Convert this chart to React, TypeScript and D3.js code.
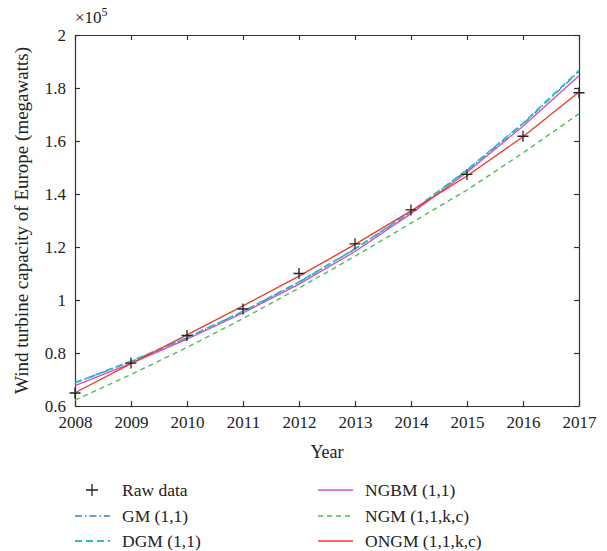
import React, { useRef, useEffect } from "react";
import * as d3 from "d3";

const years = [2008, 2009, 2010, 2011, 2012, 2013, 2014, 2015, 2016, 2017];
const rawData = [0.649, 0.762, 0.866, 0.966, 1.1, 1.212, 1.34, 1.474, 1.618, 1.782];
const gm = [0.687, 0.768, 0.857, 0.956, 1.067, 1.192, 1.332, 1.489, 1.664, 1.862];
const dgm = [0.688, 0.769, 0.858, 0.957, 1.068, 1.193, 1.333, 1.491, 1.667, 1.866];
const ngbm = [0.677, 0.761, 0.852, 0.951, 1.06, 1.183, 1.326, 1.482, 1.656, 1.846];
const ngm = [0.622, 0.719, 0.821, 0.93, 1.045, 1.165, 1.29, 1.415, 1.555, 1.703];
const ongm = [0.65, 0.76, 0.868, 0.978, 1.09, 1.21, 1.336, 1.468, 1.616, 1.785];
const yTicks = [0.6, 0.8, 1, 1.2, 1.4, 1.6, 1.8, 2];

const series = [
  { name: "GM (1,1)", values: gm, color: "#2f86c8", dash: "7,3,1.5,3", width: 1.4 },
  { name: "DGM (1,1)", values: dgm, color: "#2cc0c0", dash: "7,4", width: 1.8 },
  { name: "NGBM (1,1)", values: ngbm, color: "#d24cbf", dash: null, width: 1.3 },
  { name: "NGM (1,1,k,c)", values: ngm, color: "#4cbf55", dash: "5,4", width: 1.4 },
  { name: "ONGM (1,1,k,c)", values: ongm, color: "#f03c28", dash: null, width: 1.4 },
];

const W = 607,
  H = 551,
  margin = { top: 35, right: 28, bottom: 145, left: 75 };
const font = "'Liberation Serif', 'DejaVu Serif', serif";
const fs = 17;

const App = () => {
  const ref = useRef<SVGSVGElement>(null);

  useEffect(() => {
    const svg = d3.select(ref.current);
    svg.selectAll("*").remove();

    const x = d3
      .scaleLinear()
      .domain([2008, 2017])
      .range([margin.left, W - margin.right]);
    const y = d3
      .scaleLinear()
      .domain([0.6, 2])
      .range([H - margin.bottom, margin.top]);

    const axisColor = "#333";
    const styleAxis = (g) => {
      g.selectAll("path.domain").attr("stroke", axisColor).attr("stroke-width", 1.2);
      g.selectAll(".tick line").attr("stroke", axisColor).attr("stroke-width", 1.2);
      g.selectAll(".tick text")
        .attr("fill", "#222")
        .attr("font-family", font)
        .attr("font-size", fs);
    };

    svg
      .append("g")
      .attr("transform", `translate(0,${H - margin.bottom})`)
      .call(d3.axisBottom(x).tickValues(years).tickFormat(d3.format("d")).tickSizeInner(-5).tickSizeOuter(0).tickPadding(10))
      .call(styleAxis);
    svg
      .append("g")
      .attr("transform", `translate(0,${margin.top})`)
      .call(d3.axisTop(x).tickValues(years).tickFormat(() => "").tickSizeInner(-5).tickSizeOuter(0))
      .call(styleAxis);
    svg
      .append("g")
      .attr("transform", `translate(${margin.left},0)`)
      .call(d3.axisLeft(y).tickValues(yTicks).tickFormat((d) => String(d)).tickSizeInner(-5).tickSizeOuter(0).tickPadding(9))
      .call(styleAxis);
    svg
      .append("g")
      .attr("transform", `translate(${W - margin.right},0)`)
      .call(d3.axisRight(y).tickValues(yTicks).tickFormat(() => "").tickSizeInner(-5).tickSizeOuter(0))
      .call(styleAxis);

    const line = d3
      .line<number>()
      .x((d, i) => x(years[i]))
      .y((d) => y(d));

    const plot = svg.append("g");
    series.forEach((s) => {
      plot
        .append("path")
        .datum(s.values)
        .attr("fill", "none")
        .attr("stroke", s.color)
        .attr("stroke-width", s.width)
        .attr("stroke-dasharray", s.dash)
        .attr("d", line);
    });

    // raw data as plus markers
    plot
      .selectAll("path.raw")
      .data(rawData)
      .join("path")
      .attr("class", "raw")
      .attr("d", "M-5.5,0H5.5M0,-5.5V5.5")
      .attr("transform", (d, i) => `translate(${x(years[i])},${y(d)})`)
      .attr("stroke", "#222")
      .attr("stroke-width", 1.3)
      .attr("fill", "none");

    // multiplier label
    const mult = svg
      .append("text")
      .attr("x", margin.left)
      .attr("y", 23)
      .attr("font-family", font)
      .attr("font-size", fs)
      .attr("fill", "#222");
    mult.append("tspan").text("×10");
    mult.append("tspan").attr("dy", -7).attr("font-size", 12).text("5");

    svg
      .append("text")
      .attr("x", (margin.left + W - margin.right) / 2)
      .attr("y", 458)
      .attr("text-anchor", "middle")
      .attr("font-family", font)
      .attr("font-size", 18)
      .attr("fill", "#222")
      .text("Year");

    svg
      .append("text")
      .attr("transform", `translate(28,${(margin.top + H - margin.bottom) / 2}) rotate(-90)`)
      .attr("text-anchor", "middle")
      .attr("font-family", font)
      .attr("font-size", 19)
      .attr("fill", "#222")
      .text("Wind turbine capacity of Europe (megawatts)");

    // legend
    const legendItems = [
      { name: "Raw data", raw: true, col: 0, row: 0 },
      { ...series[0], col: 0, row: 1 },
      { ...series[1], col: 0, row: 2 },
      { ...series[2], col: 1, row: 0 },
      { ...series[3], col: 1, row: 1 },
      { ...series[4], col: 1, row: 2 },
    ];
    const colX = [75, 318];
    const rowY = [490, 516, 541];
    const legend = svg.append("g");
    legendItems.forEach((it: any) => {
      const g = legend.append("g").attr("transform", `translate(${colX[it.col]},${rowY[it.row]})`);
      if (it.raw) {
        g.append("path")
          .attr("d", "M11,0H23M17,-6V6")
          .attr("stroke", "#222")
          .attr("stroke-width", 1.3);
      } else {
        g.append("line")
          .attr("x1", 0)
          .attr("x2", 35)
          .attr("stroke", it.color)
          .attr("stroke-width", it.width)
          .attr("stroke-dasharray", it.dash);
      }
      g.append("text")
        .attr("x", 47)
        .attr("dy", "0.33em")
        .attr("font-family", font)
        .attr("font-size", 17.5)
        .attr("fill", "#222")
        .text(it.name);
    });
  }, []);

  return (
    <svg
      ref={ref}
      width={W}
      height={H}
      style={{ position: "absolute", left: 0, top: 0, background: "#fff" }}
    ></svg>
  );
};

export default App;
